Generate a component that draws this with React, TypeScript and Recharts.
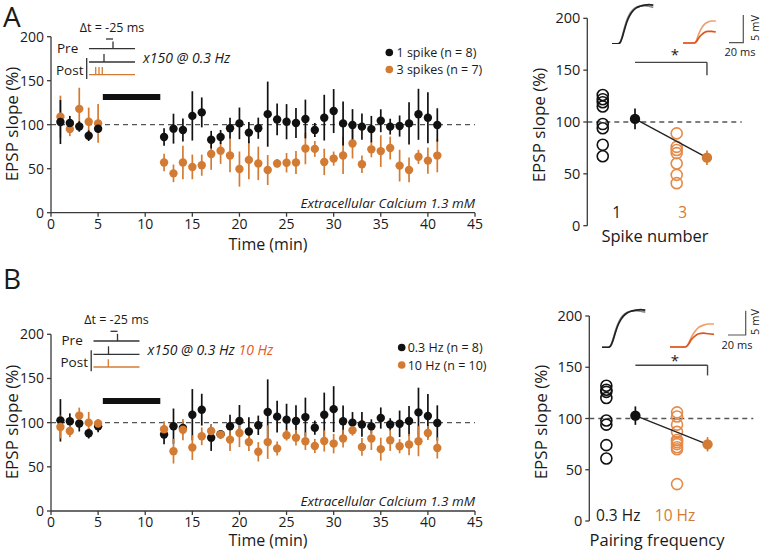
import React from 'react';
import { ComposedChart, Scatter, ErrorBar, XAxis, YAxis, ReferenceLine, ReferenceArea, LineChart, Line } from 'recharts';

// ---------- data ----------
const times = [1, 2, 3, 4, 5, 12, 13, 14, 15, 16, 17, 18, 19, 20, 21, 22, 23, 24, 25, 26, 27, 28, 29, 30, 31, 32, 33, 34, 35, 36, 37, 38, 39, 40, 41];
const timeTicks = [0, 5, 10, 15, 20, 25, 30, 35, 40, 45];
const slopeTicks = [0, 50, 100, 150, 200];

const oneSpikeMean = [103, 102, 98, 87.5, 95.5, 86, 95.5, 94, 110, 114, 83, 86, 96, 101.5, 91, 96, 112, 106, 103.4, 102, 106.5, 94, 108, 115.5, 101.5, 99.7, 97.8, 95, 104.5, 97.8, 98.5, 101.5, 111.8, 108, 99.7];
const oneSpikeErr = [25, 8, 6, 6, 5, 10, 17, 13, 28, 17, 10, 8, 12, 18, 12, 12, 37, 18, 20, 17, 22, 8, 26, 25, 25, 18, 15, 15, 13, 9, 12, 24, 29, 29, 19];
const threeSpikeMean = [109, 95, 118, 103.4, 101.5, 57, 44.7, 57, 52, 54, 66.7, 70.5, 65, 49.6, 60, 56, 48.5, 56, 56.8, 57, 73, 72.5, 57.7, 61.5, 65, 78.6, 55, 72, 70, 73.5, 53.5, 48.6, 63.5, 59.2, 64.9];
const threeSpikeErr = [24, 8, 24, 16, 22, 10, 10, 19, 14, 12, 18, 15, 19, 20, 22, 19, 17, 5, 11, 13, 18, 9, 15, 8, 21, 17, 10, 9, 18, 13, 18, 14, 8, 15, 19];

const lowFreqMean = [102.6, 101.5, 99, 88, 96, 86.5, 96, 94, 109, 114.7, 83, 87, 96, 102, 90, 97, 112, 106.8, 103.4, 101.8, 106.3, 94.3, 109, 115.3, 101.5, 100, 98, 95.8, 105.2, 98, 98.7, 101.8, 111.6, 107.5, 99.6];
const lowFreqErr = [24, 9, 9, 6, 7, 11, 20, 7, 29, 18, 15, 4, 13, 18, 16, 11, 37, 18, 18, 18, 22, 8, 25, 26, 18, 12, 14, 8, 12, 7, 15, 17, 28, 25, 20];
const highFreqMean = [95, 90.6, 108, 100, 99, 92.5, 67.7, 92, 71.8, 84.6, 90.6, 86.5, 80.8, 88.3, 78, 67, 78, 70.7, 85.7, 83, 79, 73.6, 79.3, 76.3, 82, 91.3, 72.5, 82, 70, 80, 73.3, 75.2, 79, 88.3, 71.4];
const highFreqErr = [13, 7, 9, 12, 5, 9, 14, 12, 14, 10, 7, 5, 13, 16, 10, 11, 19, 8, 6, 9, 10, 8, 12, 11, 10, 6, 10, 13, 13, 12, 8, 12, 17, 8, 12];

// summary panels
const spikeCategories = ['1', '3'];
const oneSpikeCells = [126, 122, 119, 115, 98, 94, 78, 67];
const threeSpikeCells = [89, 76, 73, 70, 60, 49, 41];
const spikeSummaryMean = [103, 65.6];
const spikeSummaryErr = [10, 7];
const spikeBracket = [157.5, 145];

const freqCategories = ['0.3 Hz', '10 Hz'];
const lowFreqCells = [132, 128, 126, 120, 98, 94, 74, 61];
const highFreqCells = [106, 102, 94, 87, 79, 77, 75, 72, 70, 36];
const freqSummaryMean = [102.8, 74.8];
const freqSummaryErr = [9, 7];
const freqBracket = [152, 142];

// EPSP example traces (ms, mV)
const epspTime = [0, 8, 11, 14, 17, 20, 24, 28, 33, 38, 44, 50, 56];
const epspBefore = [0, 0, 0.3, 1.4, 2.9, 4.2, 5.4, 6.1, 6.6, 6.8, 6.9, 6.8, 6.6];
const epspAfterCtrl = [0, 0, 0.2, 1.2, 2.6, 3.9, 5.1, 5.9, 6.5, 6.8, 7.0, 7.1, 7.0];
const epspTimeB = [0, 16, 19, 22, 26, 30, 35, 40, 46];
const epspBeforeB = [0, 0, 0.5, 1.6, 2.7, 3.4, 3.8, 4.0, 4.0];
const epspAfterB = [0, 0, 0.3, 0.9, 1.5, 1.9, 2.1, 2.1, 2.0];
const epspAfterB2 = [0, 0, 0.4, 1.2, 1.9, 2.3, 2.4, 2.3, 2.2];

// ---------- styles ----------
const FONT = '"Open Sans", sans-serif';
const INK = '#1a1a1a';
const AXIS = '#3a3a3a';
const BLACK = '#111111';
const ORANGE = '#D47B33';
const ORANGE_LIGHT = '#E58B4A';
const RED_ORANGE = '#E65A28';
const TR_LIGHT = '#F2A06A';
const TR_DARK = '#E0521E';

const build = (m: number[], e: number[]) => times.map((t, i) => ({ x: t, y: m[i], err: e[i] }));

const dot = (color: string, r: number) => (p: any) => <circle cx={p.cx} cy={p.cy} r={r} fill={color} />;
const ring = (color: string, r: number) => (p: any) => <circle cx={p.cx} cy={p.cy} r={r} fill="none" stroke={color} strokeWidth={1.6} />;
const none = () => <g />;

function TimeCourse({ top, marginTop, plotH, series, barY }: any) {
  const H = 253;
  return (
    <div style={{ position: 'absolute', left: 0, top, width: 500, height: H }}>
      <ComposedChart width={500} height={H} margin={{ top: marginTop, right: 25, bottom: 0, left: 0 }}>
        <XAxis type="number" dataKey="x" domain={[0, 45]} ticks={timeTicks} interval={0} tickSize={4} tickMargin={2}
          height={H - marginTop - plotH} stroke={AXIS} strokeWidth={1.3}
          tick={{ fill: INK, fontSize: 14, fontFamily: FONT }} />
        <YAxis type="number" dataKey="y" domain={[0, 200]} ticks={slopeTicks} interval={0} width={51} tickSize={4} tickMargin={3}
          stroke={AXIS} strokeWidth={1.3} tick={{ fill: INK, fontSize: 14, fontFamily: FONT }} />
        <ReferenceLine y={100} stroke="#555" strokeDasharray="5 4" strokeWidth={1.3} />
        <ReferenceArea x1={5.5} x2={11.6} y1={barY[0]} y2={barY[1]} fill="#111" fillOpacity={1} stroke="none" />
        {series.map((s: any) => (
          <Scatter key={s.name} name={s.name} data={s.data} dataKey="y" fill={s.color} shape={dot(s.color, 4.2)} isAnimationActive={false}>
            <ErrorBar dataKey="err" direction="y" width={0} stroke={s.color} strokeWidth={1.7} isAnimationActive={false} />
          </Scatter>
        ))}
      </ComposedChart>
    </div>
  );
}

function Summary({ top, left, width, marginTop, plotH, yAxisW, marginRight, pos, cells, means, errs, bracket, cats, catColors, catDy }: any) {
  const H = marginTop + plotH + 10;
  const cellData0 = cells[0].map((v: number) => ({ x: pos[0], y: v }));
  const cellData1 = cells[1].map((v: number) => ({ x: pos[2], y: v }));
  const meanData = [{ x: pos[1], y: means[0], err: errs[0] }, { x: pos[3], y: means[1], err: errs[1] }];
  const CatTick = (p: any) => {
    const i = pos[4].indexOf(p.payload.value);
    return (
      <text x={p.x} y={p.y + catDy} textAnchor="middle" dominantBaseline="central" fill={catColors[i]} fontSize={15.5} fontFamily={FONT}>
        {cats[i]}
      </text>
    );
  };
  return (
    <div style={{ position: 'absolute', left, top, width, height: H }}>
      <ComposedChart width={width} height={H} margin={{ top: marginTop, right: marginRight, bottom: 0, left: 0 }}>
        <XAxis type="number" dataKey="x" domain={[0, 10]} ticks={pos[4]} interval={0} axisLine={false} tickLine={false}
          tickSize={0} tickMargin={0} height={10} tick={CatTick} />
        <YAxis type="number" dataKey="y" domain={[0, 200]} ticks={slopeTicks} interval={0} width={yAxisW} tickSize={4} tickMargin={3}
          stroke={AXIS} strokeWidth={1.3} tick={{ fill: INK, fontSize: 14.5, fontFamily: FONT }} />
        <ReferenceLine y={100} stroke="#555" strokeDasharray="5 4" strokeWidth={1.3} />
        <ReferenceLine segment={[{ x: pos[1], y: bracket[0] }, { x: pos[3], y: bracket[0] }]} stroke="#444" strokeWidth={1.4} />
        <ReferenceLine segment={[{ x: pos[3], y: bracket[0] }, { x: pos[3], y: bracket[1] }]} stroke="#444" strokeWidth={1.4} />
        <Scatter name="cells0" data={cellData0} dataKey="y" shape={ring(BLACK, 5.5)} isAnimationActive={false} />
        <Scatter name="cells1" data={cellData1} dataKey="y" shape={ring(ORANGE_LIGHT, 5.5)} isAnimationActive={false} />
        <Scatter name="link" data={meanData} dataKey="y" line={{ stroke: '#222', strokeWidth: 1.3 }} shape={none} isAnimationActive={false} />
        <Scatter name="mean0" data={[meanData[0]]} dataKey="y" shape={dot(BLACK, 5.2)} isAnimationActive={false}>
          <ErrorBar dataKey="err" direction="y" width={0} stroke={BLACK} strokeWidth={1.7} isAnimationActive={false} />
        </Scatter>
        <Scatter name="mean1" data={[meanData[1]]} dataKey="y" shape={dot(ORANGE, 5.2)} isAnimationActive={false}>
          <ErrorBar dataKey="err" direction="y" width={0} stroke={ORANGE} strokeWidth={1.7} isAnimationActive={false} />
        </Scatter>
      </ComposedChart>
    </div>
  );
}

function Trace({ left, top, width, height, t, ys, colors, xMax, yMax }: any) {
  const data = t.map((v: number, i: number) => {
    const row: any = { t: v };
    ys.forEach((arr: number[], k: number) => { row['v' + k] = arr[i]; });
    return row;
  });
  return (
    <div style={{ position: 'absolute', left, top, width, height }}>
      <LineChart width={width} height={height} data={data} margin={{ top: 1, right: 1, bottom: 1, left: 1 }}>
        <XAxis dataKey="t" type="number" domain={[0, xMax]} hide />
        <YAxis type="number" domain={[0, yMax]} hide />
        {ys.map((_: any, k: number) => (
          <Line key={k} dataKey={'v' + k} type="monotone" stroke={colors[k]} strokeWidth={1.7} dot={false} isAnimationActive={false} />
        ))}
      </LineChart>
    </div>
  );
}

const txt = { fontFamily: FONT, fill: INK } as any;

function Schematic({ dx, dy, bursts, trainLabel }: any) {
  const o = (x: number) => x + dx;
  const q = (y: number) => y + dy;
  return (
    <g>
      <text x={o(112)} y={q(31.5)} textAnchor="middle" fontSize={12.5} {...txt}>Δt = -25 ms</text>
      <text x={o(57)} y={q(53)} fontSize={13.5} {...txt}>Pre</text>
      <text x={o(56)} y={q(75)} fontSize={13.5} {...txt}>Post</text>
      <line x1={o(106)} y1={q(39)} x2={o(113)} y2={q(39)} stroke="#333" strokeWidth={1.3} />
      <line x1={o(89)} y1={q(48.7)} x2={o(135)} y2={q(48.7)} stroke="#333" strokeWidth={1.3} />
      <line x1={o(113)} y1={q(41.5)} x2={o(113)} y2={q(48.7)} stroke="#333" strokeWidth={1.3} />
      <line x1={o(89)} y1={q(62)} x2={o(135)} y2={q(62)} stroke="#333" strokeWidth={1.3} />
      <line x1={o(104)} y1={q(54)} x2={o(104)} y2={q(62)} stroke="#333" strokeWidth={1.3} />
      <line x1={o(89)} y1={q(74.7)} x2={o(135)} y2={q(74.7)} stroke={ORANGE} strokeWidth={1.3} />
      {bursts.map((bx: number) => (
        <line key={bx} x1={o(bx)} y1={q(67)} x2={o(bx)} y2={q(74.7)} stroke={ORANGE} strokeWidth={1.3} />
      ))}
      <line x1={o(86.7)} y1={q(58)} x2={o(86.7)} y2={q(79)} stroke="#333" strokeWidth={1.3} />
      <text x={o(143)} y={q(62.5)} fontSize={14} fontStyle="italic" {...txt}>
        x150 @ 0.3 Hz{trainLabel ? <tspan fill={RED_ORANGE}> {trainLabel}</tspan> : null}
      </text>
    </g>
  );
}

export default function App() {
  const seriesA = [
    { name: '3 spikes (n = 7)', color: ORANGE, data: build(threeSpikeMean, threeSpikeErr) },
    { name: '1 spike (n = 8)', color: BLACK, data: build(oneSpikeMean, oneSpikeErr) },
  ];
  const seriesB = [
    { name: '0.3 Hz (n = 8)', color: BLACK, data: build(lowFreqMean, lowFreqErr) },
    { name: '10 Hz (n = 10)', color: ORANGE, data: build(highFreqMean, highFreqErr) },
  ];
  return (
    <div style={{ position: 'absolute', left: 0, top: 0, width: 762, height: 552, background: '#fff', overflow: 'hidden' }}>
      <TimeCourse top={0} marginTop={36.7} plotH={176} series={seriesA} barY={[128, 135]} />
      <TimeCourse top={298} marginTop={36.3} plotH={176.7} series={seriesB} barY={[121, 128]} />

      <Summary top={0} left={530} width={232} marginTop={18.3} plotH={207.4} yAxisW={57.3} marginRight={20.3}
        pos={[1.0, 3.09, 5.79, 7.75, [1.9, 6.18]]} cells={[oneSpikeCells, threeSpikeCells]}
        means={spikeSummaryMean} errs={spikeSummaryErr} bracket={spikeBracket}
        cats={spikeCategories} catColors={[INK, ORANGE]} catDy={-14} />
      <Summary top={290} left={530} width={232} marginTop={26} plotH={205} yAxisW={59.3} marginRight={8.7}
        pos={[1.04, 2.81, 5.35, 7.21, [1.76, 5.23]]} cells={[lowFreqCells, highFreqCells]}
        means={freqSummaryMean} errs={freqSummaryErr} bracket={freqBracket}
        cats={freqCategories} catColors={[INK, ORANGE]} catDy={-6} />

      <Trace left={610.7} top={2.5} width={43.3} height={41.8} t={epspTime} ys={[epspBefore, epspAfterCtrl]} colors={['#8c8c8c', '#222']} xMax={56} yMax={7.2} />
      <Trace left={681.7} top={20.3} width={34.8} height={24} t={epspTimeB} ys={[epspBeforeB, epspAfterB]} colors={[TR_LIGHT, TR_DARK]} xMax={46} yMax={4.0} />
      <Trace left={600.7} top={308} width={45.3} height={40.3} t={epspTime} ys={[epspBefore, epspAfterCtrl]} colors={['#8c8c8c', '#222']} xMax={56} yMax={7.2} />
      <Trace left={669} top={323.3} width={46} height={25} t={epspTimeB} ys={[epspBeforeB, epspAfterB2]} colors={[TR_LIGHT, TR_DARK]} xMax={46} yMax={4.0} />

      <svg width={762} height={552} style={{ position: 'absolute', left: 0, top: 0, pointerEvents: 'none' }}>
        <text x={3} y={27} fontSize={28} {...txt}>A</text>
        <text x={3} y={289} fontSize={28} {...txt}>B</text>

        <text transform="translate(18,124) rotate(-90)" textAnchor="middle" fontSize={17} {...txt}>EPSP slope (%)</text>
        <text transform="translate(18,422) rotate(-90)" textAnchor="middle" fontSize={17} {...txt}>EPSP slope (%)</text>
        <text transform="translate(545,125) rotate(-90)" textAnchor="middle" fontSize={17} {...txt}>EPSP slope (%)</text>
        <text transform="translate(547,422) rotate(-90)" textAnchor="middle" fontSize={17} {...txt}>EPSP slope (%)</text>

        <text x={268} y={250} textAnchor="middle" fontSize={16} {...txt}>Time (min)</text>
        <text x={268} y={546} textAnchor="middle" fontSize={16} {...txt}>Time (min)</text>
        <text x={655} y={242} textAnchor="middle" fontSize={16.5} {...txt}>Spike number</text>
        <text x={657} y={546} textAnchor="middle" fontSize={16.5} {...txt}>Pairing frequency</text>

        <Schematic dx={0} dy={0} bursts={[95.7, 99, 102.3]} />
        <Schematic dx={4.5} dy={292.3} bursts={[108.3 - 4.5]} trainLabel="10 Hz" />

        <circle cx={389.3} cy={52.5} r={3.8} fill={BLACK} />
        <text x={396.5} y={57} fontSize={12.5} {...txt}>1 spike (n = 8)</text>
        <circle cx={389.3} cy={69.5} r={3.8} fill={ORANGE} />
        <text x={396.5} y={74} fontSize={12.5} {...txt}>3 spikes (n = 7)</text>
        <circle cx={401.7} cy={347.5} r={3.8} fill={BLACK} />
        <text x={407.7} y={352} fontSize={12.5} {...txt}>0.3 Hz (n = 8)</text>
        <circle cx={401.7} cy={365} r={3.8} fill={ORANGE} />
        <text x={407.7} y={369.5} fontSize={12.5} {...txt}>10 Hz (n = 10)</text>

        <text x={475} y={208} textAnchor="end" fontSize={13.5} fontStyle="italic" {...txt}>Extracellular Calcium 1.3 mM</text>
        <text x={475} y={506} textAnchor="end" fontSize={13.5} fontStyle="italic" {...txt}>Extracellular Calcium 1.3 mM</text>

        <text x={675} y={60} textAnchor="middle" fontSize={15} {...txt}>*</text>
        <text x={675} y={366} textAnchor="middle" fontSize={15} {...txt}>*</text>

        <polyline points="743.3,15 743.3,42.7 729,42.7" fill="none" stroke="#555" strokeWidth={1.2} />
        <text x={740} y={55.5} textAnchor="middle" fontSize={11} {...txt}>20 ms</text>
        <text transform="translate(759,28) rotate(-90)" textAnchor="middle" fontSize={11} {...txt}>5 mV</text>
        <polyline points="745.7,310.7 745.7,335 728,335" fill="none" stroke="#555" strokeWidth={1.2} />
        <text x={737} y={349} textAnchor="middle" fontSize={11} {...txt}>20 ms</text>
        <text transform="translate(759,322) rotate(-90)" textAnchor="middle" fontSize={11} {...txt}>5 mV</text>
      </svg>
    </div>
  );
}
